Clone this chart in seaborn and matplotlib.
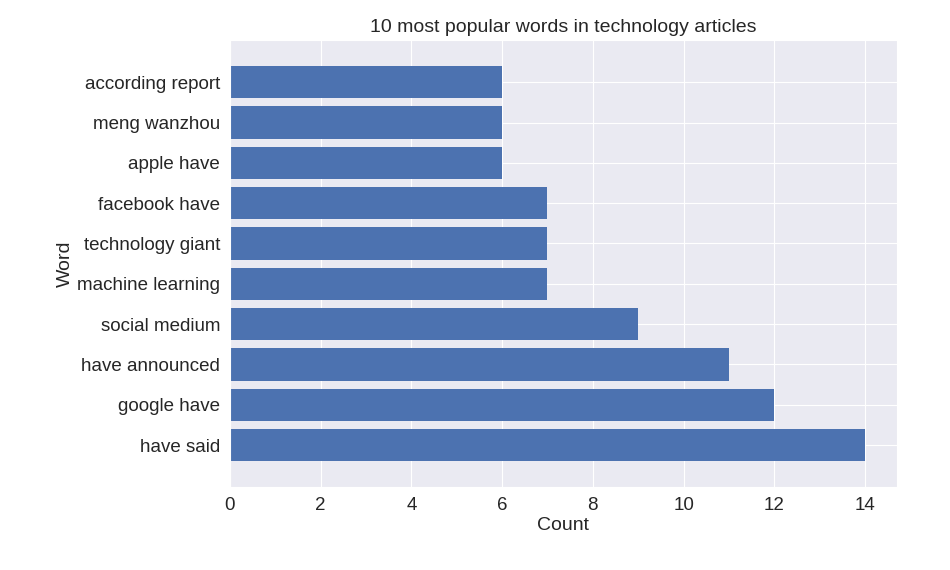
import matplotlib.pyplot as plt
import pandas as pd
import seaborn as sns

sns.set_style("darkgrid")
plt.rcParams["font.family"] = ["Liberation Sans", "DejaVu Sans"]
plt.rcParams.update({"font.size": 13})

words = ["according report", "meng wanzhou", "apple have", "facebook have",
         "technology giant", "machine learning", "social medium",
         "have announced", "google have", "have said"]
counts = [6, 6, 6, 7, 7, 7, 9, 11, 12, 14]

df = pd.DataFrame({"Word": words, "Count": counts})

fig, ax = plt.subplots(figsize=(9.5, 5.7), dpi=100)
sns.barplot(data=df, y="Word", x="Count", ax=ax, color="#4c72b0",
            saturation=1, width=0.8, orient="h", linewidth=0)
ax.set_xlim(0, 14.7)
ax.set_ylim(10.05, -1.05)
ax.set_xticks(range(0, 15, 2))
ax.yaxis.grid(True)
ax.set_axisbelow(True)
ax.set_title("10 most popular words in technology articles", fontsize=14)
ax.set_xlabel("Count", fontsize=14, labelpad=2)
ax.set_ylabel("Word", fontsize=14, labelpad=2)
ax.tick_params(labelsize=13.5)
fig.subplots_adjust(left=0.242, right=0.944, top=0.93, bottom=0.145)
fig.savefig("out.png")
